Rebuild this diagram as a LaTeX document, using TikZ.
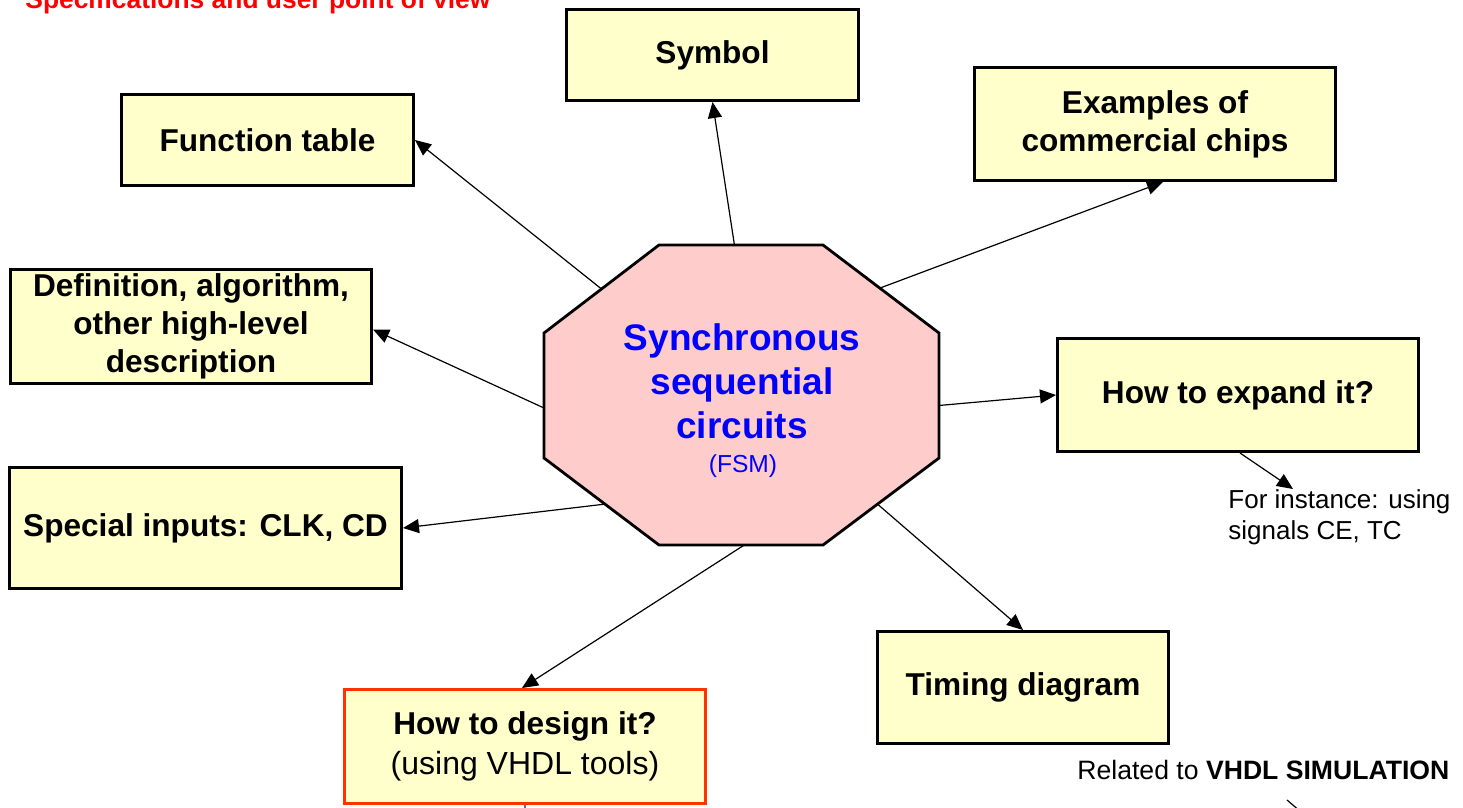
\documentclass[tikz,border=0pt]{standalone}
\usepackage{fontspec}
\setmainfont{Liberation Sans}
\usetikzlibrary{calc,arrows.meta}
\definecolor{color_fill_box}{HTML}{ffffcc}
\definecolor{color_fill_fsm}{HTML}{ffcccc}
\definecolor{color_border_design}{HTML}{ff3300}
\definecolor{color_title_red}{HTML}{ff0000}
\definecolor{color_fsm_blue}{HTML}{0000ff}
\definecolor{color_stub_blue}{HTML}{5070c0}

\tikzset{
	topicbox/.style={draw=black, line width=1.5pt, fill=color_fill_box, inner sep=0pt,
		align=center, font=\fontsize{15.8}{19}\selectfont\bfseries},
	link/.style={line width=0.6pt, -{Triangle[length=8pt,width=7pt]}},
	remark/.style={inner sep=0pt, font=\fontsize{13}{15.5}\selectfont},
}

\begin{document}
\begin{tikzpicture}[x=0.5pt,y=-0.5pt]
	\useasboundingbox (0, 0) rectangle (1463, 808);
	\clip (0, 0) rectangle (1463, 808);

	% Title (cut at the top)
	\node[anchor=base west, inner sep=0pt, text=color_title_red,
		font=\fontsize{13.2}{15}\selectfont\bfseries] (title) at (25, 9)
		{Specifications and user point of view};

	% Octagon points
	\coordinate (OA) at (659, 245);
	\coordinate (OB) at (823, 245);
	\coordinate (OC) at (939, 333);
	\coordinate (OD) at (939, 458);
	\coordinate (OE) at (823, 545);
	\coordinate (OF) at (659, 545);
	\coordinate (OG) at (544, 458);
	\coordinate (OH) at (544, 333);

	% Octagon
	\draw[line width=1.4pt, fill=color_fill_fsm, line join=miter]
		(OA) -- (OB) -- (OC) -- (OD) -- (OE) -- (OF) -- (OG) -- (OH) -- cycle;
	\node[align=center, text=color_fsm_blue, font=\fontsize{18.5}{22}\selectfont\bfseries]
		(fsmname) at (742, 381) {Synchronous\\sequential\\circuits};
	\node[text=color_fsm_blue, font=\fontsize{12.3}{14}\selectfont] (fsmshort) at (743, 466) {(FSM)};

	% Link start points on the octagon
	\coordinate (FSMFUNC) at ($(OH)!0.5!(OA)$);
	\coordinate (FSMSYM) at ($(OA)!0.46!(OB)$);
	\coordinate (FSMCHIPS) at ($(OB)!0.49!(OC)$);
	\coordinate (FSMDEF) at ($(OH)!0.6!(OG)$);
	\coordinate (FSMEXPAND) at ($(OC)!0.58!(OD)$);
	\coordinate (FSMSPECIAL) at ($(OG)!0.53!(OF)$);
	\coordinate (FSMTIMING) at ($(OE)!0.47!(OD)$);
	\coordinate (FSMDESIGN) at ($(OF)!0.52!(OE)$);

	% Boxes
	\node[topicbox, minimum width=146pt, minimum height=45.5pt] (sym) at (712.5, 55) {Symbol};
	\node[topicbox, minimum width=146pt, minimum height=45.5pt] (func) at (267.5, 140) {Function table};
	\node[topicbox, minimum width=180.5pt, minimum height=56.5pt] (chips) at (1155, 124)
		{Examples of\\commercial chips};
	\node[topicbox, minimum width=180.5pt, minimum height=57pt] (def) at (191, 326.5)
		{Definition, algorithm,\\other high-level\\description};
	\node[topicbox, minimum width=180.5pt, minimum height=56.5pt] (expand) at (1238, 395)
		{How to expand it?};
	\node[topicbox, minimum width=196pt, minimum height=60.5pt] (special) at (205.5, 528)
		{Special inputs: CLK, CD};
	\node[topicbox, minimum width=145.5pt, minimum height=56pt] (timing) at (1023, 687.5)
		{Timing diagram};
	\node[topicbox, draw=color_border_design, minimum width=180.5pt, minimum height=57pt] (design)
		at (525, 746.5)
		{How to design it?\\[1pt]{\mdseries\fontsize{16}{19}\selectfont (using VHDL tools)}};

	% Remarks
	\node[remark, anchor=north west, align=left] (instance) at (1228, 489)
		{For instance: using\\signals CE, TC};
	\node[remark, anchor=west, font=\fontsize{13.3}{15.5}\selectfont] (related) at (1077, 770)
		{Related to \textbf{VHDL SIMULATION}};
	\coordinate (RELSTUB) at (1287, 800);

	% Links
	\draw[link] (FSMFUNC) -- (func.east);
	\draw[link] (FSMSYM) -- (sym.south);
	\draw[link] (FSMCHIPS) -- ([xshift=4pt]chips.south);
	\draw[link] (FSMDEF) -- ([yshift=-1.5pt]def.east);
	\draw[link] (FSMEXPAND) -- (expand.west);
	\draw[link] (FSMSPECIAL) -- (special.east);
	\draw[link] (FSMTIMING) -- (timing.north);
	\draw[link] (FSMDESIGN) -- ([xshift=-1.5pt]design.north);
	\draw[link] ([xshift=1pt]expand.south) -- ([xshift=32.5pt]instance.north west);

	% Stubs running off the bottom
	\draw[color_stub_blue, line width=0.6pt] (design.south) -- ++(0, 12);
	\draw[line width=0.6pt] (RELSTUB) -- ++(14, 12);
\end{tikzpicture}
\end{document}
